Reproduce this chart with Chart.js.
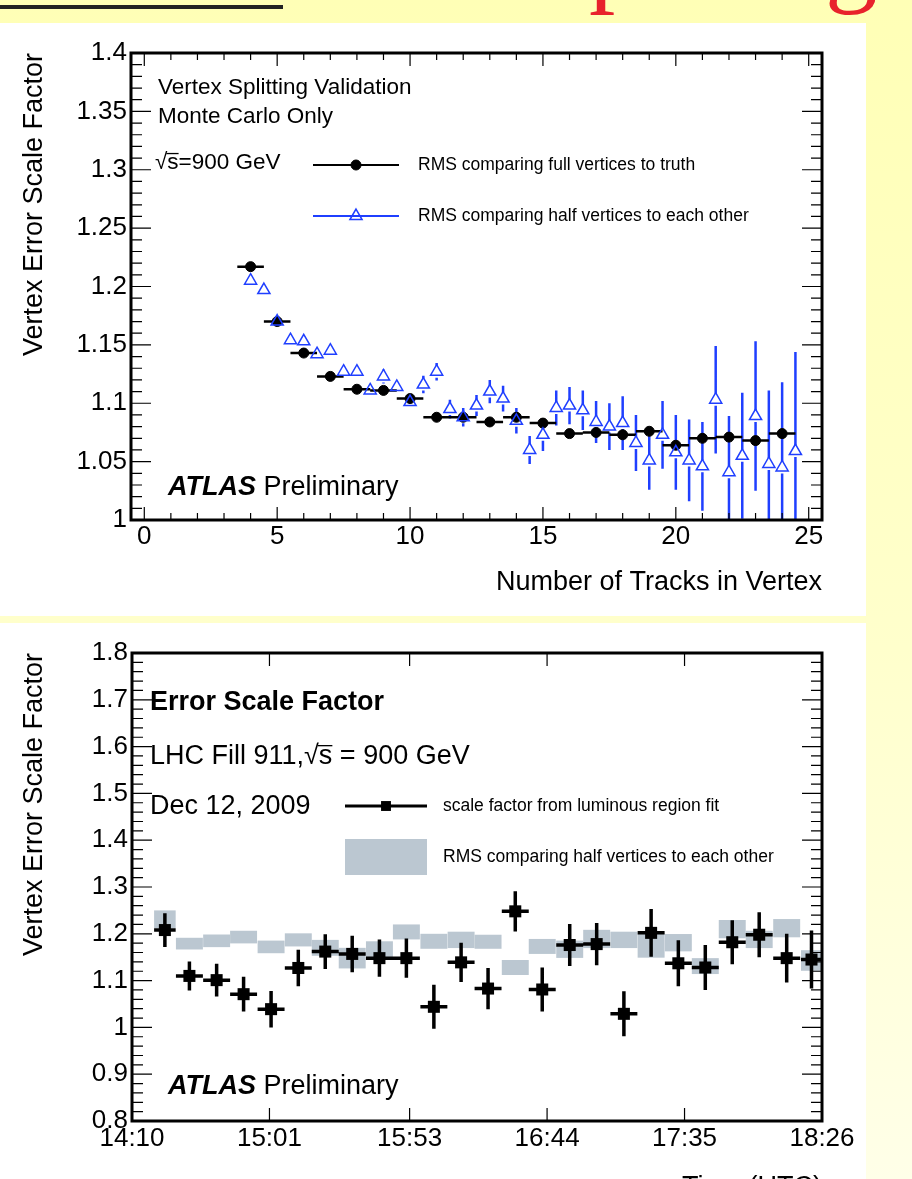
<!DOCTYPE html>
<html>
<head>
<meta charset="utf-8">
<script src="https://cdn.jsdelivr.net/npm/chart.js@4.4.0/dist/chart.umd.min.js"></script>
<style>
  html, body { margin: 0; padding: 0; }
  body {
    width: 912px; height: 1179px; overflow: hidden; position: relative;
    background: linear-gradient(#ffffb6, #ffffcc 55%, #ffffe8);
  }
  .rule { position: absolute; left: 0; top: 5px; width: 283px; height: 4px; background: #222; }
  .frag { position: absolute; top: -96px; color: #e8222c; font-family: 'Liberation Serif', serif;
          font-size: 105px; line-height: 105px; }
  .panel { position: absolute; left: 0; width: 866px; background: #fff; overflow: hidden; }
  #topPanel { top: 23px; height: 593px; }
  #botPanel { top: 623px; height: 600px; }
</style>
</head>
<body>
<div class="rule"></div>
<div class="frag" style="left:589px">p</div>
<div class="frag" style="left:825px">g</div>
<div class="panel" id="topPanel"><canvas id="topChart" width="866" height="593"></canvas></div>
<div class="panel" id="botPanel"><canvas id="botChart" width="866" height="600"></canvas></div>
<script>
// ---- top: MC validation, scale factor vs number of tracks ----
const fullTracks = [4, 5, 6, 7, 8, 9, 10, 11, 12, 13, 14, 15, 16, 17, 18, 19, 20, 21, 22, 23, 24];
const fullRms    = [1.217, 1.170, 1.143, 1.123, 1.112, 1.111, 1.104, 1.088, 1.088, 1.084, 1.088,
                    1.083, 1.074, 1.075, 1.073, 1.076, 1.064, 1.070, 1.071, 1.068, 1.074];
const fullRmsErr = [0.001, 0.001, 0.001, 0.001, 0.001, 0.001, 0.001, 0.001, 0.001, 0.002, 0.002,
                    0.002, 0.002, 0.002, 0.003, 0.003, 0.003, 0.003, 0.003, 0.004, 0.004];

const halfTracks = [4, 4.5, 5, 5.5, 6, 6.5, 7, 7.5, 8, 8.5, 9, 9.5, 10, 10.5, 11, 11.5, 12, 12.5, 13, 13.5,
                    14, 14.5, 15, 15.5, 16, 16.5, 17, 17.5, 18, 18.5, 19, 19.5, 20, 20.5, 21, 21.5,
                    22, 22.5, 23, 23.5, 24, 24.5];
const halfRms    = [1.205, 1.197, 1.170, 1.154, 1.153, 1.142, 1.145, 1.127, 1.127, 1.111, 1.123, 1.114,
                    1.101, 1.116, 1.127, 1.095, 1.088, 1.098, 1.110, 1.104, 1.085, 1.060, 1.073, 1.096,
                    1.098, 1.094, 1.084, 1.080, 1.083, 1.066, 1.051, 1.073, 1.058, 1.051, 1.046, 1.103,
                    1.041, 1.055, 1.089, 1.048, 1.045, 1.059];
const halfRmsErr = [0.002, 0.002, 0.002, 0.003, 0.003, 0.003, 0.003, 0.003, 0.004, 0.004, 0.006, 0.005,
                    0.005, 0.0075, 0.0075, 0.008, 0.008, 0.009, 0.010, 0.011, 0.011, 0.012, 0.014, 0.015,
                    0.016, 0.017, 0.018, 0.020, 0.023, 0.024, 0.025, 0.029, 0.032, 0.035, 0.038, 0.046,
                    0.048, 0.054, 0.064, 0.063, 0.073, 0.085];
const topXTicks = [0, 5, 10, 15, 20, 25];
const topYTicks = [1, 1.05, 1.1, 1.15, 1.2, 1.25, 1.3, 1.35, 1.4];

// ---- bottom: LHC fill 911, scale factor vs time ----
// bin centres in minutes after 14:10, half widths in minutes
const binMid  = [12.2, 21.3, 31.4, 41.4, 51.6, 61.7, 71.7, 81.7, 91.8, 101.8, 112.0, 122.1, 132.1,
                 142.2, 152.2, 162.4, 172.4, 182.5, 192.6, 202.7, 212.7, 222.7, 232.7, 242.9, 252.1];
const binHalf = [4, 5, 5, 5, 5, 5, 5, 5, 5, 5, 5, 5, 5, 5, 5, 5, 5, 5, 5, 5, 5, 5, 5, 5, 3.9];
const lumiFit    = [1.208, 1.110, 1.101, 1.071, 1.039, 1.127, 1.162, 1.157, 1.148, 1.148, 1.044, 1.139,
                    1.083, 1.248, 1.081, 1.176, 1.178, 1.029, 1.202, 1.137, 1.128, 1.182, 1.198, 1.148, 1.145];
const lumiFitErr = [0.036, 0.031, 0.035, 0.037, 0.039, 0.039, 0.037, 0.039, 0.040, 0.042, 0.047, 0.042,
                    0.044, 0.043, 0.047, 0.045, 0.045, 0.048, 0.051, 0.049, 0.048, 0.047, 0.048, 0.052, 0.062];
const splitRms    = [1.231, 1.179, 1.185, 1.193, 1.172, 1.187, 1.170, 1.148, 1.165, 1.204, 1.184, 1.187,
                     1.183, 1.128, 1.173, 1.167, 1.189, 1.187, 1.175, 1.181, 1.131, 1.210, 1.188, 1.212, 1.143];
const splitRmsErr = [0.019, 0.0125, 0.0135, 0.0135, 0.0135, 0.014, 0.017, 0.022, 0.019, 0.016, 0.016, 0.0175,
                     0.015, 0.016, 0.016, 0.0185, 0.0195, 0.0175, 0.026, 0.0185, 0.017, 0.0195, 0.0185, 0.0195, 0.022];
const timeTicks = ['14:10', '15:01', '15:53', '16:44', '17:35', '18:26'];
const botYTicks = [0.8, 0.9, 1, 1.1, 1.2, 1.3, 1.4, 1.5, 1.6, 1.7, 1.8];

const FONT = "'Liberation Sans', Arial, Helvetica, sans-serif";
const BLUE = '#1f3fff';
const GREY = '#bbc7d1';
Chart.defaults.font.family = FONT;
Chart.defaults.color = '#000';

const toMin = t => { const [h, m] = t.split(':').map(Number); return h * 60 + m; };
const t0 = toMin(timeTicks[0]);

// error bars and shaded boxes, drawn under the markers
const errorBars = {
  id: 'errorBars',
  beforeDatasetsDraw(chart) {
    const { ctx, chartArea: a, scales: { x, y } } = chart;
    ctx.save();
    ctx.beginPath();
    ctx.rect(a.left, a.top, a.right - a.left, a.bottom - a.top);
    ctx.clip();
    const sets = chart.data.datasets;
    // boxes first
    sets.forEach(ds => {
      if (!ds.box) return;
      ctx.fillStyle = ds.backgroundColor;
      ds.data.forEach((p, j) => {
        const l = x.getPixelForValue(p.x - ds.xErr[j]), r = x.getPixelForValue(p.x + ds.xErr[j]);
        const t = y.getPixelForValue(p.y + ds.yErr[j]), b = y.getPixelForValue(p.y - ds.yErr[j]);
        ctx.fillRect(l, t, r - l, b - t);
      });
    });
    sets.forEach(ds => {
      if (ds.box) return;
      ctx.strokeStyle = ds.errColor;
      ctx.lineWidth = ds.errWidth;
      ctx.beginPath();
      ds.data.forEach((p, j) => {
        const px = x.getPixelForValue(p.x), py = y.getPixelForValue(p.y);
        const ex = ds.xErr ? ds.xErr[j] : 0, ey = ds.yErr ? ds.yErr[j] : 0;
        const gap = ds.errGap || 0;
        if (ex) {
          ctx.moveTo(x.getPixelForValue(p.x - ex), py);
          ctx.lineTo(x.getPixelForValue(p.x + ex), py);
        }
        if (ey) {
          const t = y.getPixelForValue(p.y + ey), b = y.getPixelForValue(p.y - ey);
          if (py - t > gap) { ctx.moveTo(px, t); ctx.lineTo(px, py - gap); }
          if (b - py > gap) { ctx.moveTo(px, py + gap); ctx.lineTo(px, b); }
        }
      });
      ctx.stroke();
    });
    ctx.restore();
  }
};

// ROOT style frame with inward ticks on all four sides
const rootFrame = {
  id: 'rootFrame',
  afterDraw(chart, args, o) {
    const { ctx, chartArea: a, scales: { x, y } } = chart;
    ctx.save();
    ctx.strokeStyle = '#000';
    ctx.lineWidth = 1.2;
    ctx.beginPath();
    const each = (scale, ndiv, fn) => {
      const v = scale.ticks.map(t => t.value);
      v.forEach((val, i) => {
        fn(scale.getPixelForValue(val), true);
        if (i < v.length - 1) {
          for (let m = 1; m < ndiv; m++) fn(scale.getPixelForValue(val + (v[i + 1] - val) * m / ndiv), false);
        }
      });
    };
    each(x, o.xDiv, (p, major) => {
      const len = major ? o.xMajor : o.xMinor;
      ctx.moveTo(p, a.bottom); ctx.lineTo(p, a.bottom - len);
      ctx.moveTo(p, a.top); ctx.lineTo(p, a.top + len);
    });
    each(y, o.yDiv, (p, major) => {
      const len = major ? o.yMajor : o.yMinor;
      ctx.moveTo(a.left, p); ctx.lineTo(a.left + len, p);
      ctx.moveTo(a.right, p); ctx.lineTo(a.right - len, p);
    });
    ctx.stroke();
    ctx.lineWidth = 3;
    ctx.strokeRect(a.left, a.top, a.right - a.left, a.bottom - a.top);
    ctx.restore();
  }
};

// text inside the frame and the hand placed legend
const notes = {
  id: 'notes',
  afterDraw(chart, args, o) {
    const ctx = chart.ctx;
    ctx.save();
    ctx.textBaseline = 'middle';
    ctx.fillStyle = '#000';
    (o.lines || []).forEach(l => {
      let x = l.x;
      l.runs.forEach(r => {
        ctx.font = `${r.style || ''} ${l.size}px ${FONT}`;
        ctx.fillText(r.text, x, l.y);
        const k = r.text.indexOf('√');
        if (k >= 0) {
          const x1 = x + ctx.measureText(r.text.slice(0, k + 1)).width - 1;
          const x2 = x + ctx.measureText(r.text.slice(0, k + 2)).width;
          ctx.lineWidth = 1.3;
          ctx.strokeStyle = '#000';
          ctx.beginPath();
          ctx.moveTo(x1, l.y - 0.42 * l.size);
          ctx.lineTo(x2, l.y - 0.42 * l.size);
          ctx.stroke();
        }
        x += ctx.measureText(r.text).width;
      });
    });
    (o.keys || []).forEach(k => {
      const ds = chart.data.datasets[k.ds];
      if (ds.box) {
        ctx.fillStyle = ds.backgroundColor;
        ctx.fillRect(k.x1, k.y - k.h / 2, k.x2 - k.x1, k.h);
      } else {
        ctx.strokeStyle = ds.errColor;
        ctx.lineWidth = k.lw;
        ctx.beginPath();
        ctx.moveTo(k.x1, k.y); ctx.lineTo(k.x2, k.y);
        ctx.stroke();
        ctx.fillStyle = ds.backgroundColor;
        ctx.strokeStyle = ds.borderColor;
        ctx.lineWidth = ds.borderWidth;
        Chart.helpers.drawPoint(ctx, { pointStyle: ds.pointStyle, radius: k.r, borderWidth: ds.borderWidth, rotation: 0 },
          (k.x1 + k.x2) / 2, k.y);
      }
      ctx.fillStyle = '#000';
      ctx.font = `${k.size}px ${FONT}`;
      ctx.fillText(ds.label, k.tx, k.y);
    });
    ctx.restore();
  }
};

const axisTitle = (text, pad) => ({ display: true, text, align: 'end', font: { size: 27 }, color: '#000', padding: pad });

new Chart(document.getElementById('topChart'), {
  type: 'scatter',
  data: {
    datasets: [
      {
        label: 'RMS comparing half vertices to each other',
        data: halfTracks.map((v, i) => ({ x: v, y: halfRms[i] })),
        yErr: halfRmsErr, errColor: BLUE, errWidth: 2.5, errGap: 6,
        pointStyle: 'triangle', pointRadius: 7, borderColor: BLUE, backgroundColor: 'rgba(0,0,0,0)',
        borderWidth: 1.5, order: 0
      },
      {
        label: 'RMS comparing full vertices to truth',
        data: fullTracks.map((v, i) => ({ x: v, y: fullRms[i] })),
        xErr: fullTracks.map(() => 0.5), yErr: fullRmsErr, errColor: '#000', errWidth: 2.5,
        pointStyle: 'circle', pointRadius: 5, borderColor: '#000', backgroundColor: '#000',
        borderWidth: 1, order: 1
      }
    ]
  },
  options: {
    responsive: false, animation: false, events: [],
    layout: { padding: { top: 30, right: 44, left: 0, bottom: 0 } },
    plugins: {
      legend: { display: false }, tooltip: { enabled: false },
      rootFrame: { xDiv: 5, xMajor: 13, xMinor: 7, yDiv: 5, yMajor: 20, yMinor: 11 },
      notes: {
        lines: [
          { x: 158, y: 65, size: 22.5, runs: [{ text: 'Vertex Splitting Validation' }] },
          { x: 158, y: 94, size: 22.5, runs: [{ text: 'Monte Carlo Only' }] },
          { x: 155, y: 140, size: 22.5, runs: [{ text: '√s=900 GeV' }] },
          { x: 168, y: 465, size: 27, runs: [{ text: 'ATLAS', style: 'italic bold' }, { text: ' Preliminary' }] }
        ],
        keys: [
          { ds: 1, x1: 313, x2: 399, y: 142, lw: 2, r: 5, tx: 418, size: 17.5 },
          { ds: 0, x1: 313, x2: 399, y: 193, lw: 2, r: 7, tx: 418, size: 17.5 }
        ]
      }
    },
    scales: {
      x: {
        type: 'linear', min: -0.5, max: 25.5,
        afterFit: s => { s.height = 96; },
        afterBuildTicks: s => { s.ticks = topXTicks.map(v => ({ value: v })); },
        grid: { display: false, drawTicks: false }, border: { display: false },
        ticks: { padding: 4, font: { size: 26, lineHeight: 1 }, color: '#000', autoSkip: false, maxRotation: 0,
                 callback: v => String(v) },
        title: axisTitle('Number of Tracks in Vertex', { top: 0, bottom: 17 })
      },
      y: {
        type: 'linear', min: 1, max: 1.4,
        afterFit: s => { s.width = 131; },
        afterBuildTicks: s => { s.ticks = topYTicks.map(v => ({ value: v })); },
        grid: { display: false, drawTicks: false }, border: { display: false },
        ticks: { padding: 4, font: { size: 26 }, color: '#000', autoSkip: false, callback: v => String(v) },
        title: axisTitle('Vertex Error Scale Factor', { top: 18, bottom: 0 })
      }
    }
  },
  plugins: [errorBars, rootFrame, notes]
});

new Chart(document.getElementById('botChart'), {
  type: 'scatter',
  data: {
    datasets: [
      {
        label: 'scale factor from luminous region fit',
        data: binMid.map((v, i) => ({ x: v, y: lumiFit[i] })),
        xErr: binHalf, yErr: lumiFitErr, errColor: '#000', errWidth: 3.5,
        pointStyle: 'rect', pointRadius: 8.5, borderColor: '#000', backgroundColor: '#000',
        borderWidth: 0, order: 0
      },
      {
        label: 'RMS comparing half vertices to each other',
        data: binMid.map((v, i) => ({ x: v, y: splitRms[i] })),
        xErr: binHalf, yErr: splitRmsErr, box: true,
        pointRadius: 0, backgroundColor: GREY, borderColor: GREY, order: 1
      }
    ]
  },
  options: {
    responsive: false, animation: false, events: [],
    layout: { padding: { top: 30, right: 44, left: 0, bottom: 0 } },
    plugins: {
      legend: { display: false }, tooltip: { enabled: false },
      rootFrame: { xDiv: 1, xMajor: 13, xMinor: 0, yDiv: 5, yMajor: 20, yMinor: 11 },
      notes: {
        lines: [
          { x: 150, y: 80, size: 27, runs: [{ text: 'Error Scale Factor', style: 'bold' }] },
          { x: 150, y: 134, size: 27, runs: [{ text: 'LHC Fill 911,√s = 900 GeV' }] },
          { x: 150, y: 184, size: 27, runs: [{ text: 'Dec 12, 2009' }] },
          { x: 168, y: 464, size: 27, runs: [{ text: 'ATLAS', style: 'italic bold' }, { text: ' Preliminary' }] }
        ],
        keys: [
          { ds: 0, x1: 345, x2: 427, y: 183, lw: 3, r: 7, tx: 443, size: 17.5 },
          { ds: 1, x1: 345, x2: 427, y: 234, h: 36, tx: 443, size: 17.5 }
        ]
      }
    },
    scales: {
      x: {
        type: 'linear', min: 0, max: toMin(timeTicks[timeTicks.length - 1]) - t0,
        afterFit: s => { s.height = 102; },
        afterBuildTicks: s => { s.ticks = timeTicks.map(t => ({ value: toMin(t) - t0 })); },
        grid: { display: false, drawTicks: false }, border: { display: false },
        ticks: { padding: 5, font: { size: 26, lineHeight: 1 }, color: '#000', autoSkip: false, maxRotation: 0,
                 callback: (v, i) => timeTicks[i] },
        title: axisTitle('Time (UTC)', { top: 0, bottom: 19 })
      },
      y: {
        type: 'linear', min: 0.8, max: 1.8,
        afterFit: s => { s.width = 132; },
        afterBuildTicks: s => { s.ticks = botYTicks.map(v => ({ value: v })); },
        grid: { display: false, drawTicks: false }, border: { display: false },
        ticks: { padding: 4, font: { size: 26 }, color: '#000', autoSkip: false, callback: v => String(v) },
        title: axisTitle('Vertex Error Scale Factor', { top: 18, bottom: 0 })
      }
    }
  },
  plugins: [errorBars, rootFrame, notes]
});
</script>
</body>
</html>
